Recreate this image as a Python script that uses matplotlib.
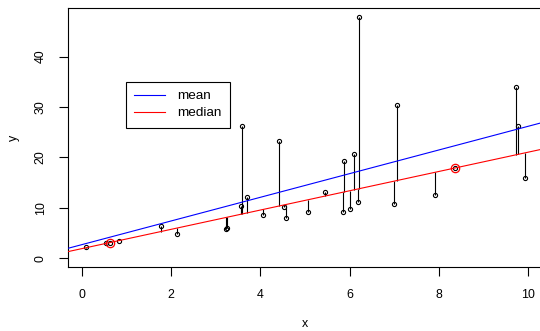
import matplotlib
matplotlib.use("Agg")
import matplotlib.pyplot as plt
import numpy as np

plt.rcParams['font.family'] = ['Liberation Sans', 'DejaVu Sans']

# data
x = [0.10, 0.55, 0.63, 0.84, 1.77, 2.13, 3.23, 3.25, 3.56, 3.58,
     3.71, 4.07, 4.42, 4.53, 4.57, 5.07, 5.45, 5.85, 5.88, 6.00,
     6.10, 6.19, 6.21, 6.99, 7.06, 7.90, 8.35, 9.72, 9.76, 9.92]
y = [2.30, 3.05, 3.10, 3.49, 6.41, 4.82, 5.75, 6.10, 10.38, 26.25,
     12.20, 8.53, 23.20, 10.24, 8.06, 9.19, 13.20, 9.25, 19.30, 9.78,
     20.75, 11.10, 47.80, 10.77, 30.50, 12.50, 17.90, 33.90, 26.25, 15.90]
fit_idx = [2, 26]           # points the median (L1) line passes through
mean_coef = [2.70, 2.35]    # intercept, slope
median_coef = [1.91, 1.915] # intercept, slope
legend_labels = ["mean", "median"]
x_ticks = [0, 2, 4, 6, 8, 10]
y_ticks = [0, 10, 20, 30, 40]

x = np.array(x)
y = np.array(y)

fig = plt.figure(figsize=(5.40, 3.31), dpi=100)
ax = fig.add_axes([68/540, 1 - 267.3/331, 474.2/540, 259.3/331])
ax.set_xlim(-0.307, 10.31)
ax.set_ylim(-1.79, 49.66)

# residual segments to median line
yfit = median_coef[0] + median_coef[1] * x
ax.vlines(x, yfit, y, colors='black', linewidth=0.8, zorder=2)

# points
ax.plot(x, y, 'o', ms=3, mfc='none', mec='black', mew=0.8, zorder=3)
ax.plot(x[fit_idx], y[fit_idx], 'o', ms=6, mfc='none', mec='red', mew=0.9, zorder=4)

# lines
lm, = ax.plot([], [], color='blue', lw=0.8)
ax.axline((0, mean_coef[0]), slope=mean_coef[1], color='blue', lw=0.8, zorder=5)
lmed, = ax.plot([], [], color='red', lw=0.8)
ax.axline((0, median_coef[0]), slope=median_coef[1], color='red', lw=0.8, zorder=5)

ax.set_xticks(x_ticks)
ax.set_yticks(y_ticks)
ax.set_yticklabels([str(v) for v in y_ticks], rotation=90, va='center')
ax.tick_params(direction='out', length=6.3, width=0.8, pad=9, labelsize=8.9, colors='black')
for s in ax.spines.values():
    s.set_linewidth(0.8)
    s.set_color('black')

ax.set_xlabel('x', fontsize=8.9, labelpad=12.5)
ax.set_ylabel('y', fontsize=8.9, labelpad=11)

leg = ax.legend([lm, lmed], legend_labels, loc='upper left',
                bbox_to_anchor=(126/540, 1 - 81.7/331), bbox_transform=fig.transFigure,
                borderaxespad=0, fontsize=9.7, fancybox=False, framealpha=1,
                edgecolor='black', handlelength=2.3, handletextpad=0.9,
                labelspacing=0.32, borderpad=0.62)
leg.get_frame().set_linewidth(0.8)

fig.savefig('out.png', dpi=100)
